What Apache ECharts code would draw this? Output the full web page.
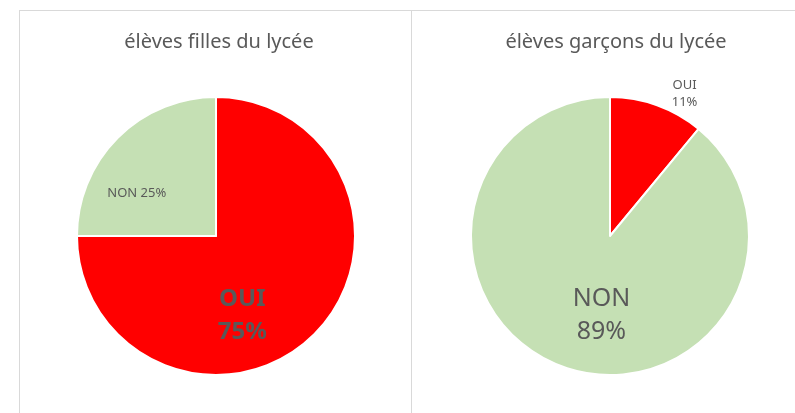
<!DOCTYPE html>
<html>
<head>
<meta charset="utf-8">
<script src="https://cdn.jsdelivr.net/npm/echarts@6/dist/echarts.min.js"></script>
<style>
  html, body { margin: 0; padding: 0; background: #fff; }
  #chart { width: 795px; height: 413px; }
</style>
</head>
<body>
<div id="chart"></div>
<script>
// données
const titles = ['élèves filles du lycée', 'élèves garçons du lycée'];
const categories = ['OUI', 'NON'];
const filles = [75, 25];
const garcons = [11, 89];
const colors = ['#ff0000', '#c5e0b4'];

const myChart = echarts.init(document.getElementById('chart'));

const textColor = '#595959';
const font = 'Noto Sans';

// style des étiquettes, par graphique et par part
const labelStyles = [
  [ // filles
    { fontSize: 24, bold: true, dx: -25, dy: 28, text: '{b}\n{d}%' },
    { fontSize: 13, dx: -28, dy: 9, text: '{b} {d}%' },
  ],
  [ // garçons
    { fontSize: 13, dx: 50, dy: -74, text: '{b}\n{d}%' },
    { fontSize: 25, dx: 16, dy: 11, text: '{b}\n{d}%' },
  ],
];

const makeSeries = (values, idx, center) => ({
  type: 'pie',
  radius: 139,
  center,
  startAngle: 90,
  clockwise: true,
  silent: true,
  itemStyle: { borderColor: '#fff', borderWidth: 2 },
  labelLine: { show: false },
  data: values.map((v, i) => {
    const s = labelStyles[idx][i];
    return {
      name: categories[i],
      value: v,
      itemStyle: { color: colors[i] },
      label: {
        show: true,
        position: 'inside',
        formatter: s.text,
        color: textColor,
        fontFamily: font,
        fontSize: s.fontSize,
        fontWeight: s.bold ? 'bold' : 'normal',
        lineHeight: s.fontSize > 20 ? 33 : 17,
      },
    };
  }),
  labelLayout: (params) => {
    const s = labelStyles[idx][params.dataIndex];
    return { dx: s.dx, dy: s.dy };
  },
});

const option = {
  animation: false,
  title: [
    {
      text: titles[0], left: 214, top: 27, textAlign: 'center',
      textStyle: { color: textColor, fontFamily: font, fontSize: 20, fontWeight: 'normal' },
    },
    {
      text: titles[1], left: 611, top: 27, textAlign: 'center',
      textStyle: { color: textColor, fontFamily: font, fontSize: 20, fontWeight: 'normal' },
    },
  ],
  graphic: [
    { type: 'line', shape: { x1: 19, y1: 10.5, x2: 795, y2: 10.5 }, style: { stroke: '#d9d9d9', lineWidth: 1 }, silent: true },
    { type: 'line', shape: { x1: 19.5, y1: 10, x2: 19.5, y2: 413 }, style: { stroke: '#d9d9d9', lineWidth: 1 }, silent: true },
    { type: 'line', shape: { x1: 411.5, y1: 10, x2: 411.5, y2: 413 }, style: { stroke: '#d9d9d9', lineWidth: 1 }, silent: true },
  ],
  series: [
    makeSeries(filles, 0, [216, 236]),
    makeSeries(garcons, 1, [610, 236]),
  ],
};
myChart.setOption(option);
</script>
</body>
</html>
